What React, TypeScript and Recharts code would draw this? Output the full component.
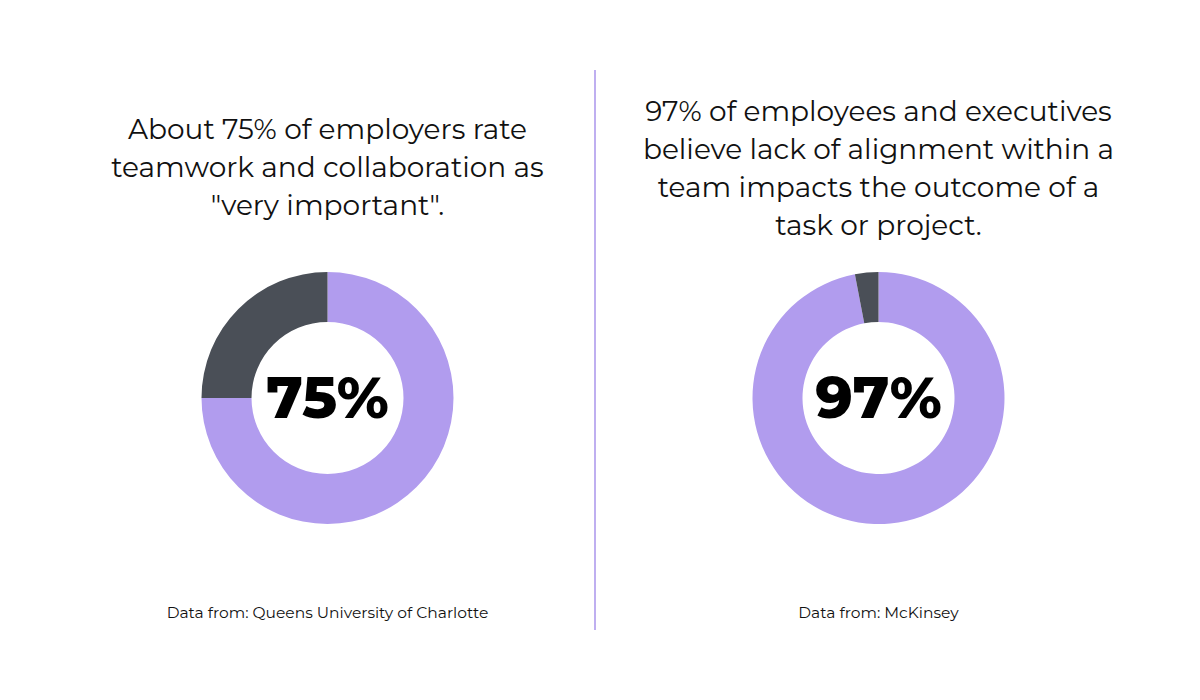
import { Cell, Pie, PieChart } from 'recharts';

// share of respondents, first slice = the highlighted answer
const sliceNames = ['Agree', 'Other'];
const employersValues = [75, 25];
const alignmentValues = [97, 3];

const leftTitle = ['About 75% of employers rate', 'teamwork and collaboration as', '"very important".'];
const rightTitle = [
  '97% of employees and executives',
  'believe lack of alignment within a',
  'team impacts the outcome of a',
  'task or project.',
];
const leftSource = 'Data from: Queens University of Charlotte';
const rightSource = 'Data from: McKinsey';

const COLORS = ['#b19cee', '#4a4f57'];
const FONT = 'Montserrat, "Open Sans", "Noto Sans", sans-serif';

const toRows = (values: number[]) => sliceNames.map((name, i) => ({ name, value: values[i] }));

function Title({ lines, center, top }: { lines: string[]; center: number; top: number }) {
  return (
    <div
      style={{
        position: 'absolute',
        left: center - 260,
        top,
        width: 520,
        textAlign: 'center',
        fontFamily: FONT,
        fontSize: 28,
        lineHeight: '38px',
        color: '#111',
      }}
    >
      {lines.map((l) => (
        <div key={l}>{l}</div>
      ))}
    </div>
  );
}

function Source({ text, center }: { text: string; center: number }) {
  return (
    <div
      style={{
        position: 'absolute',
        left: center - 200,
        top: 603,
        width: 400,
        textAlign: 'center',
        fontFamily: FONT,
        fontSize: 15.5,
        color: '#111',
      }}
    >
      {text}
    </div>
  );
}

function CenterLabel({ text, center }: { text: string; center: number }) {
  return (
    <div
      style={{
        position: 'absolute',
        left: center - 100,
        top: 398 - 40,
        width: 200,
        height: 80,
        lineHeight: '80px',
        textAlign: 'center',
        fontFamily: FONT,
        fontSize: 58,
        fontWeight: 800,
        color: '#000',
      }}
    >
      {text}
    </div>
  );
}

export default function App() {
  const pies = [
    { values: employersValues, cx: 327.5, label: '75%' },
    { values: alignmentValues, cx: 878.5, label: '97%' },
  ];

  return (
    <div style={{ position: 'absolute', left: 0, top: 0, width: 1200, height: 700, background: '#fff' }}>
      <PieChart
        width={1200}
        height={700}
        margin={{ top: 0, right: 0, bottom: 0, left: 0 }}
        style={{ position: 'absolute', left: 0, top: 0 }}
      >
        {pies.map((p) => (
          <Pie
            key={p.label}
            data={toRows(p.values)}
            dataKey="value"
            nameKey="name"
            cx={p.cx}
            cy={398}
            innerRadius={76}
            outerRadius={126}
            startAngle={90}
            endAngle={-270}
            stroke="none"
            isAnimationActive={false}
          >
            {p.values.map((_, i) => (
              <Cell key={i} fill={COLORS[i]} />
            ))}
          </Pie>
        ))}
      </PieChart>

      {pies.map((p) => (
        <CenterLabel key={p.label} text={p.label} center={p.cx} />
      ))}

      <Title lines={leftTitle} center={327.5} top={110} />
      <Title lines={rightTitle} center={878.5} top={92} />

      <div style={{ position: 'absolute', left: 594, top: 70, width: 2, height: 560, background: '#bfaff0' }} />

      <Source text={leftSource} center={327.5} />
      <Source text={rightSource} center={878.5} />
    </div>
  );
}
